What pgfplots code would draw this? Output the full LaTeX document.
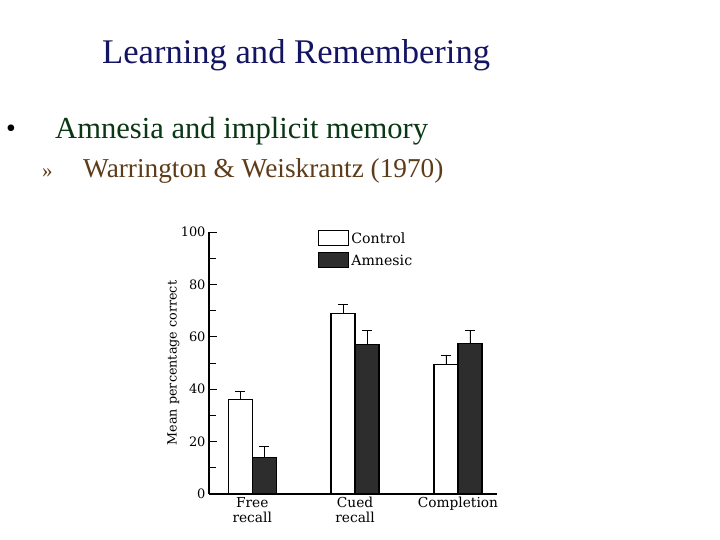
\documentclass[border=0pt]{standalone}
\usepackage{fontspec}
\usepackage{pgfplots}
\pgfplotsset{compat=1.18}
\newfontfamily\slidefont{Liberation Serif}
\newfontfamily\chartfont{DejaVu Serif}
\definecolor{titlecol}{RGB}{20,20,100}
\definecolor{subcol}{RGB}{10,55,20}
\definecolor{citecol}{RGB}{95,60,25}
\definecolor{amn}{RGB}{45,45,45}
\begin{document}
\begin{tikzpicture}[x=1bp,y=1bp]
\fill[white] (0,0) rectangle (720,540);
\path[use as bounding box] (0,0) rectangle (720,540);
\node[anchor=base west, text=titlecol, font=\slidefont\fontsize{34.7}{40}\selectfont, inner sep=0] at (102,476) {Learning and Remembering};
\node[anchor=base west, text=black, font=\slidefont\fontsize{28}{32}\selectfont, inner sep=0] at (6,402) {\textbullet};
\node[anchor=base west, text=subcol, font=\slidefont\fontsize{30.7}{36}\selectfont, inner sep=0] at (55,401) {Amnesia and implicit memory};
\node[anchor=base west, text=citecol, font=\slidefont\fontsize{21}{24}\selectfont, inner sep=0] at (42,362) {»};
\node[anchor=base west, text=citecol, font=\slidefont\fontsize{27.4}{30}\selectfont, inner sep=0] at (83,362) {Warrington \& Weiskrantz (1970)};
\begin{axis}[
  at={(209bp,46bp)}, anchor=south west,
  scale only axis, width=288bp, height=262bp,
  xmin=-0.42, xmax=2.38, ymin=0, ymax=100,
  axis x line=bottom, axis y line=left,
  axis line style={-, line width=1.2pt},
  ybar=0pt, bar width=24bp,
  xtick={0,1,2},
  xticklabels={{Free\\recall},{Cued\\recall},{Completion}},
  x tick label style={align=center, font=\chartfont\fontsize{13.8}{15}\selectfont},
  major x tick style={draw=none},
  ytick={0,20,...,100}, minor ytick={10,30,...,90},
  tick align=inside, ytick pos=left,
  major tick length=8bp, minor tick length=7bp,
  y tick style={line width=0.8pt, black},
  /pgf/number format/assume math mode=true,
  y tick label style={font=\chartfont\fontsize{13}{14}\selectfont},
  ylabel={Mean percentage correct},
  ylabel style={font=\chartfont\fontsize{12.8}{14}\selectfont, at={(axis description cs:-0.09,0.5)}},
  legend style={at={(0.368,1.015)}, anchor=north west, draw=none, fill=none,
     font=\chartfont\fontsize{14.2}{15}\selectfont, row sep=5bp},
  legend image code/.code={\draw[#1, draw=black, line width=1.2pt] (0bp,-7bp) rectangle (30bp,8bp);},
  legend cell align=left,
]
\addplot[fill=white, draw=black, line width=1.3pt,
  error bars/.cd, y dir=plus, y explicit,
  error bar style={line width=0.8pt, black},
  error mark options={rotate=90, mark size=5bp, line width=0.8pt, black}]
  coordinates {(0,36) +- (0,3) (1,69) +- (0,3.5) (2,49.5) +- (0,3.3)};
\addplot[fill=amn, draw=black, line width=1.3pt,
  error bars/.cd, y dir=plus, y explicit,
  error bar style={line width=0.8pt, black},
  error mark options={rotate=90, mark size=5bp, line width=0.8pt, black}]
  coordinates {(0,14) +- (0,4) (1,57) +- (0,5.5) (2,57.5) +- (0,5)};
\legend{Control, Amnesic}
\end{axis}
\end{tikzpicture}
\end{document}
